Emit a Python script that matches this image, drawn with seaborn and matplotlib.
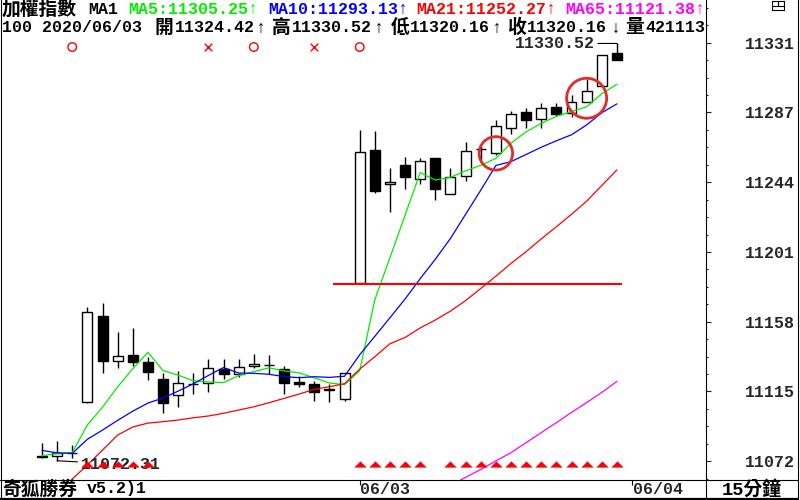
import numpy as np
import pandas as pd
import matplotlib.pyplot as plt
from matplotlib.lines import Line2D
import seaborn as sns

sns.set_style("white")
plt.rcParams['font.family'] = ['Liberation Mono', 'Noto Sans CJK TC', 'DejaVu Sans']
plt.rcParams['font.weight'] = 'bold'

# 15-minute bars: tail of 06/01, all of 06/02, all of 06/03
open_ = [11075.5, 11075.2, 11077.3, 11108.6, 11161.9, 11134.2, 11137.7, 11133.6, 11122.9, 11112.8,
         11119.5, 11120.2, 11128.9, 11125.8, 11130.7, 11131.4, 11128.9, 11121.0, 11119.6, 11116.1,
         11110.3, 11182.1, 11264.6, 11243.5, 11255.3, 11246.5, 11259.4, 11237.4, 11248.5, 11265.2,
         11262.5, 11278.0, 11288.3, 11283.6, 11291.0, 11287.7, 11294.5, 11304.4, 11324.42]
high = [11083.3, 11084.5, 11082.0, 11167.6, 11170.1, 11152.1, 11154.6, 11136.7, 11126.8, 11127.8,
        11126.4, 11135.3, 11135.3, 11135.3, 11138.3, 11137.5, 11130.9, 11124.7, 11121.6, 11119.6,
        11126.4, 11277.0, 11276.3, 11253.3, 11260.1, 11259.8, 11259.6, 11253.3, 11269.3, 11267.1,
        11283.1, 11288.9, 11290.4, 11293.5, 11293.9, 11298.6, 11308.3, 11323.6, 11330.52]
low = [11074.3, 11072.31, 11074.0, 11108.3, 11126.6, 11129.9, 11130.9, 11122.3, 11102.0, 11105.7,
       11113.4, 11115.0, 11122.9, 11123.9, 11129.5, 11125.8, 11113.6, 11117.7, 11109.4, 11108.8,
       11109.3, 11181.8, 11238.2, 11226.4, 11240.3, 11243.4, 11233.6, 11237.2, 11245.6, 11257.2,
       11261.5, 11274.5, 11278.4, 11278.0, 11285.6, 11284.8, 11294.3, 11304.2, 11320.16]
close = [11074.6, 11077.3, 11077.0, 11164.5, 11134.2, 11137.1, 11133.6, 11127.4, 11108.2, 11120.2,
         11119.6, 11129.5, 11125.8, 11130.1, 11132.0, 11131.4, 11120.2, 11119.6, 11114.6, 11116.1,
         11126.4, 11263.2, 11239.4, 11245.0, 11247.7, 11257.6, 11240.3, 11248.1, 11264.2, 11265.2,
         11279.4, 11286.9, 11283.1, 11290.8, 11286.9, 11294.5, 11301.3, 11323.4, 11320.16]
volume = 421113

ma5 = [11075.4, 11076.8, 11077.4, 11094.4, 11105.5, 11118.0, 11129.3, 11139.4, 11128.1, 11125.3,
       11121.8, 11121.0, 11120.7, 11125.0, 11127.4, 11129.8, 11127.9, 11126.7, 11123.6, 11120.4,
       11119.4, 11128.0, 11171.9, 11198.0, 11224.3, 11250.6, 11246.0, 11247.7, 11251.6, 11255.1,
       11259.4, 11268.8, 11275.8, 11281.1, 11285.4, 11288.4, 11291.3, 11299.4, 11305.25]
ma10 = [11078.7, 11077.2, 11076.9, 11085.6, 11091.3, 11097.3, 11103.0, 11108.0, 11111.1, 11115.4,
        11119.9, 11125.1, 11130.0, 11126.6, 11126.4, 11125.8, 11124.4, 11123.7, 11124.3, 11123.9,
        11124.6, 11137.9, 11149.3, 11160.8, 11172.4, 11185.0, 11197.0, 11209.9, 11224.8, 11239.7,
        11255.0, 11257.4, 11261.8, 11266.3, 11270.3, 11274.0, 11280.1, 11287.6, 11293.13]
ma21 = [11038.0, 11046.0, 11061.0, 11069.7, 11078.9, 11088.2, 11093.2, 11095.6, 11096.5, 11097.5,
        11098.9, 11100.0, 11101.7, 11103.7, 11105.7, 11108.2, 11110.9, 11113.6, 11116.5, 11118.1,
        11120.0, 11129.0, 11136.7, 11144.7, 11148.6, 11154.5, 11159.4, 11164.9, 11171.4, 11178.9,
        11186.5, 11194.4, 11201.7, 11209.6, 11217.1, 11224.8, 11232.9, 11242.6, 11252.27]
ma65 = [np.nan] * 26 + [11052.0, 11057.0, 11062.0, 11066.9, 11072.2, 11077.3, 11083.5, 11089.7,
                        11095.9, 11102.2, 11108.3, 11114.6, 11121.38]

ma_colors = {'MA5': '#00ee00', 'MA10': '#0000ff', 'MA21': '#ff0000', 'MA65': '#ff00ff'}

buy_idx = [2, 14, 21]
sell_idx = [11, 18]
tri_idx = [3, 4, 5, 6, 7, 21, 22, 23, 24, 25, 27, 28, 29, 30, 31, 32, 33, 34, 35, 36, 37, 38]
circle_idx = [30, 36]
circle_val = [11262.5, 11296.6]
support = 11181.8

day_idx = [21, 39]
day_labels = ['06/03', '06/04']
ytick_vals = [11072, 11115.17, 11158.33, 11201.5, 11244.67, 11287.83, 11331]
ytick_labels = ['11072', '11115', '11158', '11201', '11244', '11287', '11331']

W, H = 800, 500
def fx(x): return x / W
def fy(y): return 1 - y / H

fig = plt.figure(figsize=(8, 5), dpi=100)
fig.patch.set_facecolor('white')
ax = fig.add_axes([fx(1), fy(480), 705 / W, 480 / H])
ax.set_xlim(-2.71, 43.89)
ax.set_ylim(11060.4, 11357.4)
for s in ax.spines.values():
    s.set_visible(False)

idx = np.arange(len(close))
o = np.array(open_); c = np.array(close)
ax.vlines(idx, low, high, color='black', lw=1.0, zorder=2)
bottom = np.minimum(o, c)
height = np.maximum(np.abs(c - o), 0.3)
fills = ['white' if cc > oo else 'black' for oo, cc in zip(o, c)]
ax.bar(idx, height, bottom=bottom, width=0.66, color=fills, edgecolor='black', linewidth=1.0, zorder=3)

df = pd.DataFrame({'i': idx, 'MA5': ma5, 'MA10': ma10, 'MA21': ma21, 'MA65': ma65})
long = df.melt(id_vars='i', var_name='ma', value_name='v').dropna()
sns.lineplot(data=long, x='i', y='v', hue='ma', palette=ma_colors, ax=ax, linewidth=0.9,
             legend=False, estimator=None, sort=True, zorder=4)
ax.set_xlabel(''); ax.set_ylabel('')

ax.hlines(support, 19.25, 38.35, color='#ff0000', lw=1.5, zorder=4)

ax.scatter(circle_idx, circle_val, s=[580, 830], facecolors='none', edgecolors='#e42a2a',
           linewidths=2.0, zorder=6)

xt = ax.get_xaxis_transform()
ax.scatter(buy_idx, [0.902] * len(buy_idx), transform=xt, marker='o', s=38,
           facecolors='none', edgecolors='#ff0000', linewidths=1.0, zorder=6)
ax.scatter(sell_idx, [0.902] * len(sell_idx), transform=xt, marker='x', s=30,
           color='#ff0000', linewidths=1.0, zorder=6)

tri = [(-1, -0.5), (1, -0.5), (0, 0.5), (-1, -0.5)]
ax.scatter(tri_idx, [0.033] * len(tri_idx), transform=xt, marker=tri, s=80,
           color='#ff0000', linewidths=0, zorder=7)

ax.annotate(f"{high[-1]:.2f}", xy=(idx[-1], high[-1]), xytext=(-16, 0), textcoords='offset points',
            ha='right', va='center', fontsize=12,
            arrowprops=dict(arrowstyle='-', color='black', lw=0.8, shrinkA=0, shrinkB=0))
lo = int(np.argmin(low))
ax.annotate(f"{low[lo]:.2f}", xy=(lo, low[lo]), xytext=(17, -2.5), textcoords='offset points',
            ha='left', va='center', fontsize=12, zorder=5,
            arrowprops=dict(arrowstyle='-', color='black', lw=0.8, shrinkA=0, shrinkB=0))

# price axis on the right panel
ax.yaxis.tick_right()
ax.set_yticks(ytick_vals)
ax.set_yticklabels(ytick_labels)
ax.set_yticks(np.arange(11072 - 43.1667 / 4, 11360, 43.1667 / 4), minor=True)
ax.tick_params(axis='y', which='major', direction='out', length=3.6, width=0.8,
               pad=60.5, labelsize=12, right=True, left=False)
ax.tick_params(axis='y', which='minor', direction='out', length=1.2, width=0.8,
               right=True, left=False)
for t in ax.get_yticklabels():
    t.set_horizontalalignment('right')
ax.set_xticks([])

# date marks in the bottom strip
ax.vlines(day_idx, -5 / 480, 0, transform=xt, color='black', lw=0.8, clip_on=False)
for d, lab in zip(day_idx, day_labels):
    ax.text(d + 0.05, -9.5 / 480, lab, transform=xt, ha='left', va='center', fontsize=12, clip_on=False)

CJK = 13.5
def put(x, y, s, color='black', size=12, ha='left'):
    fig.text(fx(x), fy(y), s, color=color, ha=ha, va='center', fontsize=size)

# header line 1
put(2, 9, "加權指數", size=CJK)
put(88, 9, "MA1")
put(128, 9, f"MA5:{ma5[-1]:.2f}↑", ma_colors['MA5'])
put(268, 9, f"MA10:{ma10[-1]:.2f}↑", ma_colors['MA10'])
put(416, 9, f"MA21:{ma21[-1]:.2f}↑", ma_colors['MA21'])
put(565, 9, f"MA65:{ma65[-1]:.2f}↑", ma_colors['MA65'])

# header line 2
put(2, 28, "100 2020/06/03")
put(164, 28, "開", size=CJK, ha='center')
put(175, 28, f"{open_[-1]:.2f}")
put(261, 28, "↑", ha='center')
put(281, 28, "高", size=CJK, ha='center')
put(292, 28, f"{high[-1]:.2f}")
put(379, 28, "↑", ha='center')
put(400, 28, "低", size=CJK, ha='center')
put(410, 28, f"{low[-1]:.2f}")
put(497, 28, "↑", ha='center')
put(516, 28, "收", size=CJK, ha='center')
put(527, 28, f"{close[-1]:.2f}")
put(616, 28, "↓", ha='center')
put(635, 28, "量", size=CJK, ha='center')
put(645, 28, f"{volume}")

# bottom strip
put(2, 489, "奇狐勝券", size=CJK)
put(87, 489, "v5.2)1")
put(752, 489, "15分鐘", size=CJK, ha='center')

def fig_line(x0, y0, x1, y1, lw=0.8):
    fig.add_artist(Line2D([fx(x0), fx(x1)], [fy(y0), fy(y1)], color='black', lw=lw))

fig_line(0.5, 0, 0.5, 499)
fig_line(706, 0, 706, 499)
fig_line(797.5, 0, 797.5, 499)
fig_line(0, 479.5, 798, 479.5)
fig_line(0, 498.5, 798, 498.5, lw=1.6)
# window icon
fig_line(772, 1, 784, 1); fig_line(772, 10, 784, 10)
fig_line(772, 1, 772, 10); fig_line(784, 1, 784, 10)
fig_line(772, 5.5, 784, 5.5); fig_line(778, 1, 778, 5.5)

fig.savefig('out.png', dpi=100)
